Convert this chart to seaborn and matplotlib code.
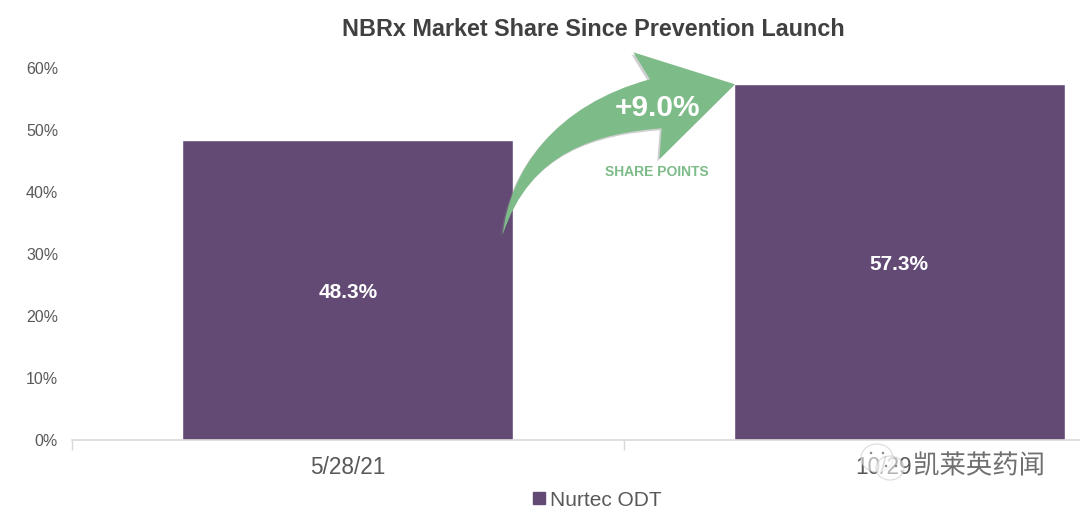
import matplotlib
matplotlib.use('Agg')
import matplotlib.pyplot as plt
import matplotlib.patheffects as pe
from matplotlib.patches import Ellipse, PathPatch
from matplotlib.path import Path
from matplotlib.lines import Line2D
from matplotlib.transforms import Affine2D
import pandas as pd
import seaborn as sb

sb.set_style('white')
plt.rcParams['font.family'] = ['Liberation Sans', 'Noto Sans CJK SC', 'DejaVu Sans']

dates = ['5/28/21', '10/29/21']
share = [48.3, 57.3]
value_labels = ['48.3%', '57.3%']
y_ticks = [0, 10, 20, 30, 40, 50, 60]
series_name = 'Nurtec ODT'
title = 'NBRx Market Share Since Prevention Launch'
arrow_label = '+9.0%'
arrow_note = 'SHARE POINTS'
watermark = '凯莱英药闻'

PURPLE = '#624a75'
GREEN = '#7dbb88'
GRAY = '#595959'
W, H = 1080, 512

df = pd.DataFrame({'date': dates, 'share': share})

fig = plt.figure(figsize=(W / 100, H / 100), dpi=100)
# axes runs off the right of the picture like the original slide crop
ax = fig.add_axes([72 / W, (H - 439.5) / H, 1103 / W, 372 / H])
sb.barplot(data=df, x='date', y='share', color=PURPLE, width=0.6, saturation=1, ax=ax)
ax.set_xlim(-0.5, 1.5)
ax.set_ylim(0, 60)
ax.set_xlabel('')
ax.set_ylabel('')

ax.bar_label(ax.containers[0], labels=value_labels, label_type='center', padding=-2,
             color='white', fontsize=15, fontweight='bold')

ax.set_yticks(y_ticks)
ax.set_yticklabels([f'{v}%' for v in y_ticks], fontsize=11.5, color=GRAY)
ax.tick_params(axis='y', length=0, pad=10)
ax.tick_params(axis='x', which='major', length=0, pad=12, labelsize=16.3, labelcolor=GRAY)
ax.set_xticks([-0.5, 0.5, 1.5], minor=True)
ax.tick_params(axis='x', which='minor', bottom=True, length=7, width=1, color='#d9d9d9')
sb.despine(ax=ax, left=True, top=True, right=True)
ax.spines['bottom'].set_color('#d9d9d9')
ax.spines['bottom'].set_linewidth(1.2)

fig.text(593 / W, (H - 30) / H, title, ha='center', va='center',
         fontsize=16.8, fontweight='bold', color='#404040')

# arrow shape, drawn in picture pixels (y down)
px = Affine2D().scale(1, -1).translate(0, H)
verts = [(502.7, 235), (510, 170), (555, 105), (650, 79.3),
         (633.3, 52.3), (735, 84.3), (659.3, 159.3), (661.7, 128.3),
         (600, 133), (530, 150), (502.7, 235), (502.7, 235)]
codes = [Path.MOVETO, Path.CURVE4, Path.CURVE4, Path.CURVE4,
         Path.LINETO, Path.LINETO, Path.LINETO, Path.LINETO,
         Path.CURVE4, Path.CURVE4, Path.CURVE4, Path.CLOSEPOLY]
shape = Path(verts, codes)
fig.add_artist(PathPatch(shape, transform=Affine2D().translate(-2, 2) + px,
                         fc='#888888', ec='none', alpha=0.4))
fig.add_artist(PathPatch(shape, transform=px, fc=GREEN, ec='none'))

fig.text(657 / W, (H - 108) / H, arrow_label, ha='center', va='center',
         fontsize=21.5, fontweight='bold', color='white')
fig.text(657 / W, (H - 172) / H, arrow_note, ha='center', va='center',
         fontsize=10, fontweight='bold', color=GREEN)

handle = Line2D([], [], marker='s', ls='', color=PURPLE, markersize=9)
fig.legend([handle], [series_name], loc='center', bbox_to_anchor=(595 / W, (H - 500) / H),
           frameon=False, fontsize=15, labelcolor=GRAY, handletextpad=0.05,
           borderpad=0, handlelength=1)

# watermark over the second date
for (cx, cy, rx, ry) in [(877, 458, 16, 14), (890, 468, 14, 12)]:
    fig.add_artist(Ellipse((cx, cy), rx * 2, ry * 2, transform=px,
                           fc='white', ec='#c4c4c4', lw=0.9, alpha=0.55))
for (cx, cy) in [(871, 453), (883, 453), (886, 466), (896, 466)]:
    fig.add_artist(Ellipse((cx, cy), 2.5, 2.5, transform=px, fc='#8a8a8a', ec='none'))
fig.text(979 / W, (H - 466) / H, watermark, ha='center', va='center', fontsize=19,
         color='#6f6f6f', path_effects=[pe.withStroke(linewidth=6, foreground='white')])

fig.savefig('out.png', dpi=100)
